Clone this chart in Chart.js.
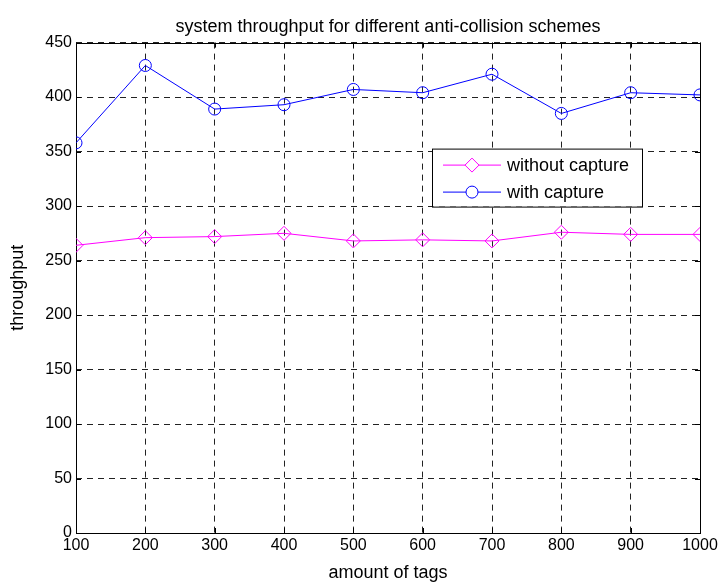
<!DOCTYPE html>
<html>
<head>
<meta charset="utf-8">
<script src="https://cdn.jsdelivr.net/npm/chart.js@4/dist/chart.umd.min.js"></script>
<style>
    html, body { margin: 0; padding: 0; background: #fff; }
    #wrap { width: 722px; height: 586px; }
</style>
</head>
<body>
<div id="wrap"><canvas id="chart"></canvas></div>
<script>
const tags = [100, 200, 300, 400, 500, 600, 700, 800, 900, 1000];
const withoutCapture = [264, 271, 272, 275, 268, 269, 268, 276, 274, 274];
const withCapture = [358, 429, 389, 393, 407, 404, 421, 385, 404, 402];
const seriesNames = ['without capture', 'with capture'];
const seriesColors = ['#ff00ff', '#0000ff'];

const font = 'Liberation Sans, Arial, Helvetica, sans-serif';

// box round the plot area plus inward tick marks, like the matlab axes
const framePlugin = {
    id: 'frame',
    beforeDatasetsDraw(chart) {
        const { ctx, chartArea: a, scales } = chart;
        ctx.save();
        ctx.strokeStyle = '#000';
        ctx.lineWidth = 1;
        ctx.setLineDash([]);
        ctx.beginPath();
        scales.x.ticks.forEach((t) => {
            const px = Math.round(scales.x.getPixelForValue(t.value)) + 0.5;
            ctx.moveTo(px, a.bottom); ctx.lineTo(px, a.bottom - 5);
            ctx.moveTo(px, a.top); ctx.lineTo(px, a.top + 5);
        });
        scales.y.ticks.forEach((t) => {
            const py = Math.round(scales.y.getPixelForValue(t.value)) + 0.5;
            ctx.moveTo(a.left, py); ctx.lineTo(a.left + 5, py);
            ctx.moveTo(a.right, py); ctx.lineTo(a.right - 5, py);
        });
        ctx.stroke();
        ctx.strokeRect(Math.round(a.left) + 0.5, Math.round(a.top) + 0.5, Math.round(a.right - a.left), Math.round(a.bottom - a.top));
        ctx.restore();
    },
};

// legend box inside the plot, drawn by hand
const legendPlugin = {
    id: 'boxLegend',
    afterDraw(chart) {
        const { ctx, chartArea: a } = chart;
        const left = a.left + 356, top = a.top + 106, w = 210, h = 58;
        ctx.save();
        ctx.fillStyle = '#fff';
        ctx.fillRect(left, top, w, h);
        ctx.strokeStyle = '#000';
        ctx.lineWidth = 1;
        ctx.strokeRect(left + 0.5, top + 0.5, w, h);
        chart.data.datasets.forEach((ds, i) => {
            const y = top + 16 + i * 27;
            ctx.strokeStyle = ds.borderColor;
            ctx.beginPath();
            ctx.moveTo(left + 11, y + 0.5);
            ctx.lineTo(left + 69, y + 0.5);
            ctx.stroke();
            ctx.fillStyle = '#fff';
            Chart.helpers.drawPoint(ctx, { pointStyle: ds.pointStyle, radius: ds.pointRadius, borderWidth: 1 }, left + 40, y + 0.5);
            ctx.fillStyle = '#000';
            ctx.font = `18px ${font}`;
            ctx.textBaseline = 'middle';
            ctx.fillText(ds.label, left + 75, y + 1);
        });
        ctx.restore();
    },
};

new Chart(document.getElementById('chart'), {
    type: 'line',
    data: {
        datasets: [
            {
                label: seriesNames[0],
                data: tags.map((x, i) => ({ x, y: withoutCapture[i] })),
                borderColor: seriesColors[0],
                backgroundColor: 'rgba(0,0,0,0)',
                borderWidth: 1,
                pointStyle: 'rectRot',
                pointRadius: 7,
                pointBorderWidth: 1,
                tension: 0,
            },
            {
                label: seriesNames[1],
                data: tags.map((x, i) => ({ x, y: withCapture[i] })),
                borderColor: seriesColors[1],
                backgroundColor: 'rgba(0,0,0,0)',
                borderWidth: 1,
                pointStyle: 'circle',
                pointRadius: 6,
                pointBorderWidth: 1,
                tension: 0,
            },
        ],
    },
    options: {
        responsive: true,
        maintainAspectRatio: false,
        animation: false,
        layout: { padding: { left: 0, right: 22, top: 0, bottom: 0 } },
        scales: {
            x: {
                type: 'linear',
                min: 100,
                max: 1000,
                afterFit: (scale) => { scale.height = 53; },
                ticks: { stepSize: 100, color: '#000', padding: 3, font: { family: font, size: 16 }, callback: (v) => String(v) },
                grid: { color: '#222', lineWidth: 1, drawTicks: false, tickLength: 0 },
                border: { display: false, dash: [6, 5] },
                title: { display: true, text: 'amount of tags', color: '#000', padding: { top: 0, bottom: 2 }, font: { family: font, size: 18 } },
            },
            y: {
                min: 0,
                max: 450,
                afterFit: (scale) => { scale.width = 76; },
                ticks: { stepSize: 50, color: '#000', padding: 4, font: { family: font, size: 16 } },
                grid: { color: '#222', lineWidth: 1, drawTicks: false, tickLength: 0 },
                border: { display: false, dash: [6, 5] },
                title: { display: true, text: 'throughput', color: '#000', padding: { top: 7, bottom: 0 }, font: { family: font, size: 18 } },
            },
        },
        plugins: {
            legend: { display: false },
            tooltip: { enabled: false },
            title: {
                display: true,
                fullSize: false,
                text: 'system throughput for different anti-collision schemes',
                color: '#000',
                padding: { top: 16, bottom: 5 },
                font: { family: font, size: 18, weight: 'normal' },
            },
        },
    },
    plugins: [framePlugin, legendPlugin],
});
</script>
</body>
</html>
